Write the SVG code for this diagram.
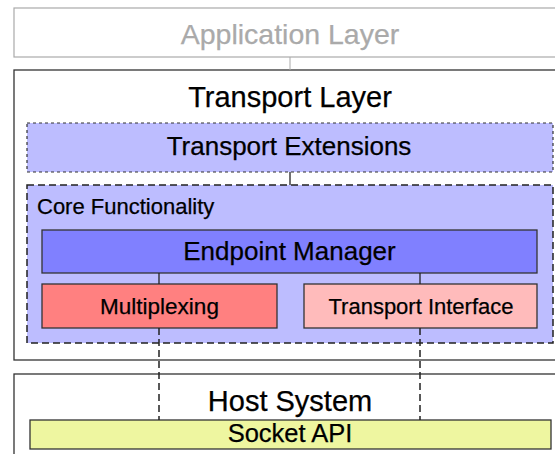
<svg xmlns="http://www.w3.org/2000/svg" width="555" height="454" viewBox="0 0 555 454">
<style>
text{font-family:"Liberation Sans",Arial,sans-serif;text-anchor:middle;fill:#000;stroke:#000;stroke-width:0.25}
.solid{stroke:#333;stroke-width:1.3}
.dash1{stroke:#333;stroke-width:1.2;stroke-dasharray:3,3}
.dash2{stroke:#222;stroke-width:1.5;stroke-dasharray:7,4}
.conn{stroke:#222;stroke-width:1.3;fill:none}
</style>
<rect width="555" height="454" fill="#fff"/>
<g id="app">
<rect x="14" y="8" width="560" height="49" fill="#fff" stroke="#aaa" stroke-width="1.2"/>
<text x="290" y="44" font-size="28.5" style="fill:#aaa;stroke:#aaa">Application Layer</text>
</g>
<g id="transport">
<rect x="14" y="70" width="560" height="290" fill="#fff" class="solid"/>
<text x="290" y="107" font-size="29">Transport Layer</text>
</g>
<g id="extensions">
<rect x="27" y="123" width="526" height="49" fill="#bdbdff" class="dash1"/>
<text x="289" y="155" font-size="26">Transport Extensions</text>
</g>
<g id="core">
<rect x="27" y="185" width="526" height="158" fill="#bdbdff" class="dash2"/>
<text x="37" y="214" font-size="22" style="text-anchor:start">Core Functionality</text>
</g>
<g id="endpoint">
<rect x="42" y="230" width="495" height="43" fill="#8080ff" class="solid"/>
<text x="289.5" y="260" font-size="26">Endpoint Manager</text>
</g>
<g id="multiplexing">
<rect x="42" y="284" width="235" height="44" fill="#ff8080" class="solid"/>
<text x="159.5" y="313.5" font-size="22.5">Multiplexing</text>
</g>
<g id="interface">
<rect x="304" y="284" width="233" height="44" fill="#ffbbbb" class="solid"/>
<text x="421" y="313.5" font-size="22">Transport Interface</text>
</g>
<g id="host">
<rect x="14" y="374" width="560" height="100" fill="#fff" class="solid"/>
<text x="290" y="410.5" font-size="29">Host System</text>
</g>
<g id="socket">
<rect x="30" y="420" width="521" height="29" fill="#eef6a0" class="solid"/>
<text x="290" y="442" font-size="25.5">Socket API</text>
</g>
<g id="connectors">
<line x1="290" y1="57" x2="290" y2="70" stroke="#aaa" stroke-width="1"/>
<line x1="290" y1="172" x2="290" y2="185" class="conn"/>
<line x1="159" y1="273" x2="159" y2="284" class="conn"/>
<line x1="420" y1="273" x2="420" y2="284" class="conn"/>
<line x1="159" y1="328" x2="159" y2="420" class="dash2"/>
<line x1="420" y1="328" x2="420" y2="420" class="dash2"/>
</g>
</svg>
